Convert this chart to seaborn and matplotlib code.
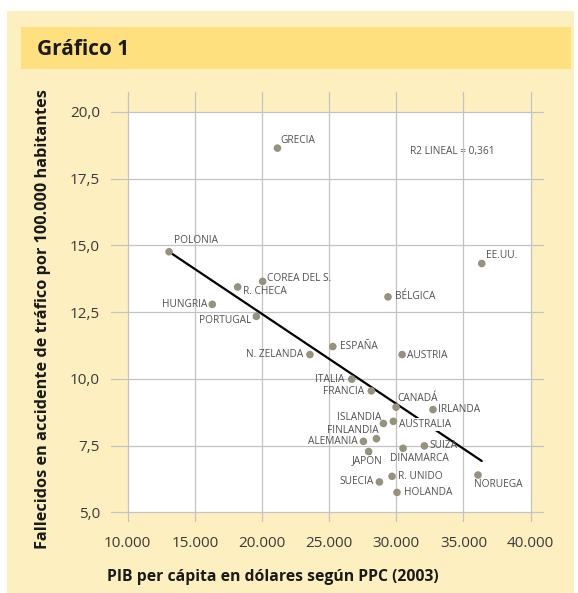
import matplotlib.pyplot as plt
import seaborn as sns
from matplotlib.patches import Rectangle

# Datos: PIB per cápita (PPC, 2003) y fallecidos en accidente de tráfico por 100.000 hab.
paises = ["GRECIA", "POLONIA", "COREA DEL S.", "R. CHECA", "HUNGRIA", "PORTUGAL",
          "EE.UU.", "BÉLGICA", "ESPAÑA", "N. ZELANDA", "AUSTRIA", "ITALIA",
          "FRANCIA", "CANADÁ", "IRLANDA", "AUSTRALIA", "ISLANDIA", "FINLANDIA",
          "ALEMANIA", "JAPÓN", "DINAMARCA", "SUIZA", "R. UNIDO", "SUECIA",
          "HOLANDA", "NORUEGA"]
pib = [21150, 13080, 20050, 18190, 16300, 19580,
       36360, 29380, 25270, 23570, 30430, 26680,
       28140, 29980, 32730, 29780, 29040, 28520,
       27550, 27940, 30500, 32090, 29680, 28740,
       30050, 36080]
fallecidos = [18.64, 14.76, 13.65, 13.44, 12.79, 12.34,
              14.32, 13.07, 11.21, 10.91, 10.91, 9.99,
              9.55, 8.94, 8.85, 8.41, 8.33, 7.76,
              7.66, 7.28, 7.40, 7.49, 6.35, 6.14,
              5.75, 6.40]
x_ticks = [10000, 15000, 20000, 25000, 30000, 35000, 40000]
y_ticks = [5.0, 7.5, 10.0, 12.5, 15.0, 17.5, 20.0]

# Colocación de las etiquetas (desplazamiento en píxeles, alineación)
etiquetas = {
    "GRECIA": (3, 8, "left"), "POLONIA": (5, 11, "left"),
    "COREA DEL S.": (4, 3, "left"), "R. CHECA": (5, -5, "left"),
    "HUNGRIA": (-5, 0, "right"), "PORTUGAL": (-5, -4, "right"),
    "EE.UU.": (4, 8, "left"), "BÉLGICA": (7, 0, "left"),
    "ESPAÑA": (7, 0, "left"), "N. ZELANDA": (-7, 0, "right"),
    "AUSTRIA": (5, -1, "left"), "ITALIA": (-7, 0, "right"),
    "FRANCIA": (-7, -1, "right"), "CANADÁ": (1, 9, "left"),
    "IRLANDA": (5, 0, "left"), "AUSTRALIA": (6, -3, "left"),
    "ISLANDIA": (-2, 6, "right"), "FINLANDIA": (2, 8, "right"),
    "ALEMANIA": (-6, 0, "right"), "JAPÓN": (-2, -9, "center"),
    "DINAMARCA": (-13, -10, "left"), "SUIZA": (5, 0, "left"),
    "R. UNIDO": (6, 0, "left"), "SUECIA": (-6, 0, "right"),
    "HOLANDA": (7, 0, "left"), "NORUEGA": (-4, -9, "left"),
}

sns.set_theme(style="whitegrid")
plt.rcParams['font.family'] = ['Open Sans', 'DejaVu Sans']

fig = plt.figure(figsize=(5.78, 5.93), dpi=100)
fig.patch.set_facecolor('white')
fig.add_artist(Rectangle((0.0126, 0), 0.9805, 0.9815, transform=fig.transFigure,
                         facecolor='#fdefc0', edgecolor='none', zorder=-2))
fig.add_artist(Rectangle((0.0363, 0.8836), 0.9516, 0.0709, transform=fig.transFigure,
                         facecolor='#ffe07f', edgecolor='none', zorder=-1))
fig.text(0.064, 0.9073, "Gráfico 1", fontsize=15, fontweight='bold',
         color='#1a1a1a', va='baseline')

ax = fig.add_axes([0.192, 0.1197, 0.7491, 0.7251])
ax.set_facecolor('none')
ax.add_patch(Rectangle((10000, 5), 30000, 15, facecolor='white', edgecolor='none', zorder=0))
ax.set_axisbelow(True)

sns.regplot(x=pib, y=fallecidos, scatter=False, ci=None, truncate=True,
            color='black', line_kws={'lw': 1.6, 'zorder': 2}, ax=ax)
sns.scatterplot(x=pib, y=fallecidos, color='#96927d', s=30, edgecolor='none',
                zorder=3, ax=ax)

for pais, x, y in zip(paises, pib, fallecidos):
    dx, dy, ha = etiquetas[pais]
    kw = {}
    if pais == "AUSTRALIA":
        kw['bbox'] = dict(facecolor='white', edgecolor='none', pad=0.5)
    ax.annotate(pais, (x, y), xytext=(dx, dy), textcoords='offset pixels',
                ha=ha, va='center', fontsize=7.3, color='#505050', zorder=4, **kw)

ax.text(31020, 18.5, "R2 LINEAL = 0,361", fontsize=7.3, color='#505050',
        va='center', zorder=0.2)

ax.set_xlim(8757, 40990)
ax.set_ylim(4.64, 20.74)
ax.set_xticks(x_ticks)
ax.set_xticklabels([f"{v:,}".replace(',', '.') for v in x_ticks])
ax.set_yticks(y_ticks)
ax.set_yticklabels([f"{v:.1f}".replace('.', ',') for v in y_ticks])
ax.grid(True, color='#c3c3c3', lw=0.9)
ax.tick_params(length=0, labelsize=11, labelcolor='#3a3a3a')
ax.tick_params(axis='x', pad=10)
ax.tick_params(axis='y', pad=8)
for s in ax.spines.values():
    s.set_visible(False)

ax.set_xlabel("PIB per cápita en dólares según PPC (2003)", fontsize=11.3,
              fontweight='bold', color='#1a1a1a')
ax.set_ylabel("Fallecidos en accidente de tráfico por 100.000 habitantes",
              fontsize=11.7, fontweight='bold', color='#1a1a1a')
ax.xaxis.set_label_coords(0.373, -0.128)
ax.yaxis.set_label_coords(-0.157, 0.472)
ax.xaxis.label.set_va('center')
ax.yaxis.label.set_va('center')

fig.savefig("out.png", dpi=100)
